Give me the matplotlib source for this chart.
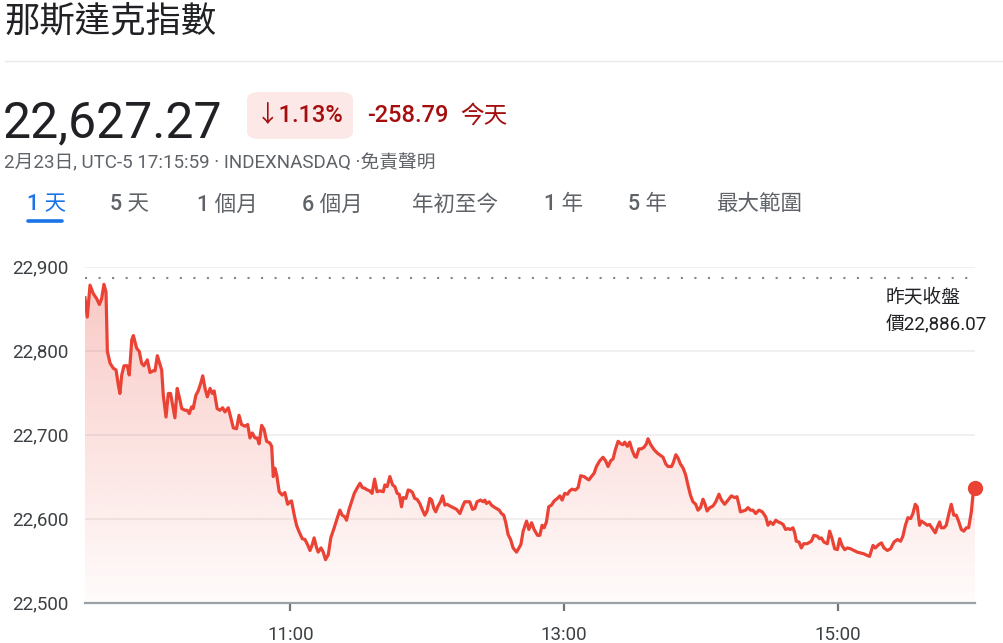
import numpy as np
import matplotlib
matplotlib.use("Agg")
import matplotlib.pyplot as plt
from matplotlib.patches import FancyBboxPatch
from matplotlib.lines import Line2D

plt.rcParams['font.family'] = ['Roboto', 'Noto Sans CJK TC', 'DejaVu Sans']

# minutes after the 9:30 open
minutes = [
    0, 1.0, 2.2, 3.6, 5.1, 6.3, 7.3, 8.3, 9.2, 9.8,
    11.0, 12.4, 13.6, 14.6, 15.3, 16.1, 17.1, 18.5, 19.4, 20.5,
    21.2, 22.6, 23.8, 24.8, 25.8, 27.3, 28.5, 29.9, 30.7, 31.7,
    32.9, 33.6, 34.3, 35.5, 36.5, 37.5, 38.4, 39.4, 40.4, 41.3,
    42.4, 43.8, 44.8, 45.7, 46.7, 47.4, 48.6, 49.6, 50.7, 51.6,
    52.6, 53.6, 54.8, 55.8, 56.6, 57.9, 59.1, 60.3, 61.3, 62.8,
    65.0, 66.4, 67.5, 68.6, 70.1, 71.3, 72.3, 73.3, 74.5, 75.5,
    76.3, 77.4, 78.5, 79.6, 81.0, 81.8, 82.5, 83.2, 84.0, 85.1,
    86.4, 87.6, 88.8, 89.8, 90.5, 91.7, 92.7, 93.7, 95.2, 96.4,
    97.5, 98.6, 99.6, 100.4, 101.5, 102.2, 103.4, 104.4, 105.4, 106.6,
    107.7, 109.2, 110.7, 111.7, 112.7, 113.9, 114.6, 115.6, 116.8, 118.0,
    119.4, 120.5, 121.5, 122.6, 123.8, 124.8, 125.8, 126.9, 128.0, 129.2,
    130.7, 131.4, 132.4, 133.6, 134.8, 135.8, 136.8, 137.7, 138.7, 139.4,
    140.6, 141.6, 142.7, 143.5, 144.5, 145.5, 146.7, 147.9, 148.9, 149.9,
    151.1, 151.9, 152.9, 153.7, 154.7, 155.8, 156.7, 157.7, 158.7, 159.9,
    161.3, 162.8, 164.3, 165.4, 166.4, 167.9, 168.6, 169.8, 170.8, 171.8,
    173.3, 174.5, 175.2, 175.9, 177.1, 178.1, 179.1, 180.3, 181.5, 182.5,
    183.5, 184.4, 185.4, 186.5, 187.6, 189.1, 191.0, 192.0, 193.5, 194.5,
    195.7, 196.8, 198.3, 199.3, 200.3, 201.2, 202.2, 203.2, 204.4, 205.6,
    207.0, 208.1, 209.1, 210.2, 211.4, 212.4, 213.4, 214.9, 216.1, 217.2,
    218.7, 219.7, 220.8, 221.9, 223.1, 224.1, 225.6, 227.0, 228.1, 229.2,
    230.4, 231.4, 232.4, 233.6, 234.8, 235.8, 236.5, 237.7, 238.7, 239.7,
    240.9, 241.6, 242.7, 243.8, 245.0, 246.0, 246.7, 247.9, 249.4, 250.8,
    252.3, 253.3, 254.5, 255.5, 257.0, 257.7, 258.9, 259.9, 260.9, 262.1,
    263.2, 264.2, 265.3, 266.4, 267.6, 268.6, 269.7, 270.8, 271.6, 272.6,
    273.8, 275.2, 276.4, 277.8, 278.9, 280.3, 281.8, 283.2, 284.7, 285.7,
    286.6, 287.2, 288.3, 289.5, 290.5, 291.6, 292.7, 293.9, 295.3, 296.8,
    298.3, 299.3, 300.3, 301.5, 302.7, 303.7, 304.7, 305.9, 307.0, 308.0,
    309.1, 310.2, 311.0, 311.7, 312.9, 313.9, 314.9, 316.4, 318.3, 319.4,
    320.9, 321.9, 322.7, 323.8, 325.3, 326.3, 327.3, 328.5, 329.7, 330.7,
    331.7, 332.9, 334.1, 335.5, 337.0, 338.4, 339.9, 341.3, 342.8, 343.8,
    345.3, 346.3, 347.8, 349.0, 350.1, 351.6, 353.0, 354.5, 356.0, 357.4,
    358.4, 359.5, 360.6, 361.8, 362.8, 363.8, 364.7, 365.7, 366.5, 367.6,
    369.1, 370.1, 371.6, 372.6, 373.5, 374.5, 375.2, 376.4, 377.4, 378.4,
    379.6, 380.7, 381.8, 382.8, 384.0, 385.1, 386.2, 387.2, 388.4, 389.1,
    390.0,
]
prices = [
    22863, 22840, 22878, 22868, 22862, 22855, 22862, 22879, 22870, 22799,
    22785, 22779, 22777, 22759, 22749, 22771, 22782, 22782, 22771, 22813,
    22818, 22803, 22799, 22785, 22782, 22789, 22774, 22776, 22776, 22794,
    22783, 22777, 22747, 22721, 22749, 22749, 22735, 22720, 22755, 22745,
    22731, 22729, 22729, 22725, 22733, 22731, 22747, 22752, 22761, 22770,
    22755, 22745, 22755, 22749, 22752, 22731, 22729, 22732, 22727, 22732,
    22708, 22707, 22723, 22712, 22710, 22712, 22696, 22702, 22696, 22696,
    22689, 22711, 22706, 22692, 22690, 22686, 22650, 22660, 22652, 22632,
    22628, 22631, 22617, 22620, 22621, 22604, 22592, 22585, 22576, 22575,
    22569, 22562, 22569, 22577, 22565, 22560, 22565, 22560, 22551, 22557,
    22577, 22589, 22602, 22610, 22604, 22602, 22598, 22610, 22620, 22630,
    22637, 22642, 22637, 22636, 22634, 22633, 22630, 22647, 22632, 22633,
    22632, 22640, 22638, 22650, 22640, 22638, 22630, 22629, 22614, 22625,
    22624, 22634, 22633, 22631, 22624, 22623, 22618, 22610, 22604, 22609,
    22624, 22622, 22612, 22608, 22615, 22620, 22627, 22616, 22617, 22615,
    22613, 22611, 22606, 22614, 22620, 22620, 22620, 22611, 22612, 22620,
    22622, 22620, 22622, 22618, 22620, 22616, 22614, 22612, 22610, 22606,
    22604, 22595, 22581, 22575, 22565, 22560, 22569, 22585, 22597, 22587,
    22595, 22587, 22580, 22580, 22592, 22589, 22596, 22614, 22616, 22621,
    22624, 22627, 22622, 22630, 22629, 22633, 22635, 22634, 22637, 22651,
    22650, 22648, 22646, 22650, 22654, 22662, 22669, 22673, 22669, 22662,
    22669, 22671, 22682, 22692, 22689, 22688, 22691, 22686, 22691, 22682,
    22674, 22673, 22683, 22683, 22685, 22689, 22695, 22688, 22682, 22678,
    22675, 22673, 22665, 22662, 22662, 22666, 22676, 22672, 22665, 22660,
    22652, 22640, 22628, 22620, 22617, 22610, 22613, 22623, 22618, 22609,
    22613, 22615, 22620, 22629, 22622, 22617, 22622, 22627, 22625, 22626,
    22616, 22608, 22609, 22610, 22613, 22610, 22610, 22606, 22610, 22608,
    22602, 22592, 22596, 22593, 22598, 22596, 22595, 22593, 22587, 22588,
    22587, 22589, 22583, 22573, 22572, 22565, 22570, 22570, 22573, 22580,
    22579, 22576, 22577, 22572, 22570, 22585, 22577, 22564, 22563, 22576,
    22568, 22563, 22565, 22564, 22562, 22560, 22559, 22558, 22556, 22555,
    22568, 22565, 22569, 22571, 22565, 22562, 22564, 22572, 22575, 22573,
    22579, 22592, 22601, 22600, 22606, 22617, 22614, 22592, 22597, 22595,
    22592, 22593, 22587, 22583, 22590, 22596, 22589, 22589, 22592, 22604,
    22617, 22604, 22604, 22597, 22587, 22585, 22589, 22589, 22608, 22628,
    22636,
]
assert len(minutes) == len(prices)

prev_close = 22886.07
y_ticks = [22500, 22600, 22700, 22800, 22900]
y_labels = ['22,500', '22,600', '22,700', '22,800', '22,900']
x_ticks = [90, 210, 330]
x_labels = ['11:00', '13:00', '15:00']
tabs = ['1 天', '5 天', '1 個月', '6 個月', '年初至今', '1 年', '5 年', '最大範圍']

W, H = 1004, 643
RED = '#ea4335'
DARKRED = '#a50e0e'
GREY = '#5f6368'


def fx(px):
    return px / W


def fy(py):
    return 1 - py / H


fig = plt.figure(figsize=(W / 100, H / 100), dpi=100)
fig.patch.set_facecolor('white')

ax = fig.add_axes([fx(85), fy(602.5), fx(975) - fx(85), fy(266.7) - fy(602.5)])
ax.set_xlim(0, 390)
ax.set_ylim(22500, 22900)

x = np.array(minutes)
y = np.array(prices)

# gradient under the line
grad = np.zeros((256, 2, 4))
rgb = matplotlib.colors.to_rgb(RED)
grad[..., 0], grad[..., 1], grad[..., 2] = rgb
grad[..., 3] = np.linspace(0.30, 0.02, 256)[:, None]
img = ax.imshow(grad, extent=[0, 390, 22500, 22900], origin='upper',
                aspect='auto', zorder=1, interpolation='bilinear')
poly = ax.fill_between(x, y, 22500, color='none', lw=0)
img.set_clip_path(poly.get_paths()[0], transform=ax.transData)

for t in y_ticks[1:]:
    ax.axhline(t, color='#eeeeee', lw=1.2, zorder=0)
ax.axhline(prev_close, color='#80868b', lw=1.5, linestyle=(0, (1, 5.5)), zorder=2)

ax.plot(x, y, color=RED, lw=2.3, solid_joinstyle='round', zorder=3)
ax.plot(x[-1], y[-1], 'o', ms=10, color=RED, zorder=4, clip_on=False)

for s in ['top', 'right', 'left']:
    ax.spines[s].set_visible(False)
ax.spines['bottom'].set_color('#9aa0a6')
ax.spines['bottom'].set_linewidth(1.6)

ax.set_yticks(y_ticks)
ax.set_yticklabels(y_labels)
ax.set_xticks(x_ticks)
ax.set_xticklabels(x_labels)
ax.tick_params(axis='y', length=0, pad=12, labelsize=13.5, labelcolor='#3c4043')
ax.tick_params(axis='x', length=6, width=1.6, color='#70757a', pad=11,
               labelsize=13.5, labelcolor='#3c4043')

# label for yesterday's close
fig.text(fx(886), fy(297), '昨天收盤', fontsize=13.5, color='#202124', va='center')
fig.text(fx(886), fy(325), '價22,886.07', fontsize=13.5, color='#202124', va='center')

# header
fig.text(fx(5), fy(22), '那斯達克指數', fontsize=25.5, color='#202124', va='center')
fig.add_artist(Line2D([fx(5), 1], [fy(61), fy(61)], color='#e8eaed', lw=1))
fig.text(fx(3), fy(137), '22,627.27', fontsize=36, color='#202124', va='baseline')

badge = FancyBboxPatch((fx(247), fy(139)), fx(353) - fx(247), fy(92) - fy(139),
                       boxstyle='round,pad=0,rounding_size=0.012',
                       transform=fig.transFigure, facecolor='#fce8e6',
                       edgecolor='none')
fig.add_artist(badge)
fig.text(fx(300), fy(116), '↓1.13%', fontsize=17, color=DARKRED, ha='center',
         va='center', fontweight='medium')
fig.text(fx(367), fy(116), '-258.79', fontsize=17, color=DARKRED, va='center',
         fontweight='medium')
fig.text(fx(460), fy(116), '今天', fontsize=17, color=DARKRED, va='center')

fig.text(fx(4), fy(163), '2月23日, UTC-5 17:15:59 · INDEXNASDAQ ·免責聲明',
         fontsize=13.5, color=GREY, va='center')

tab_x = [27, 110, 197, 302, 412, 544, 628, 716]
for i, (label, px) in enumerate(zip(tabs, tab_x)):
    fig.text(fx(px), fy(205), label, fontsize=15.5, va='center', fontweight='medium',
             color='#1a73e8' if i == 0 else GREY)
fig.add_artist(Line2D([fx(28), fx(62)], [fy(221), fy(221)], color='#1a73e8',
                      lw=2.6, solid_capstyle='round'))

fig.savefig('out.png', dpi=100, facecolor='white')
